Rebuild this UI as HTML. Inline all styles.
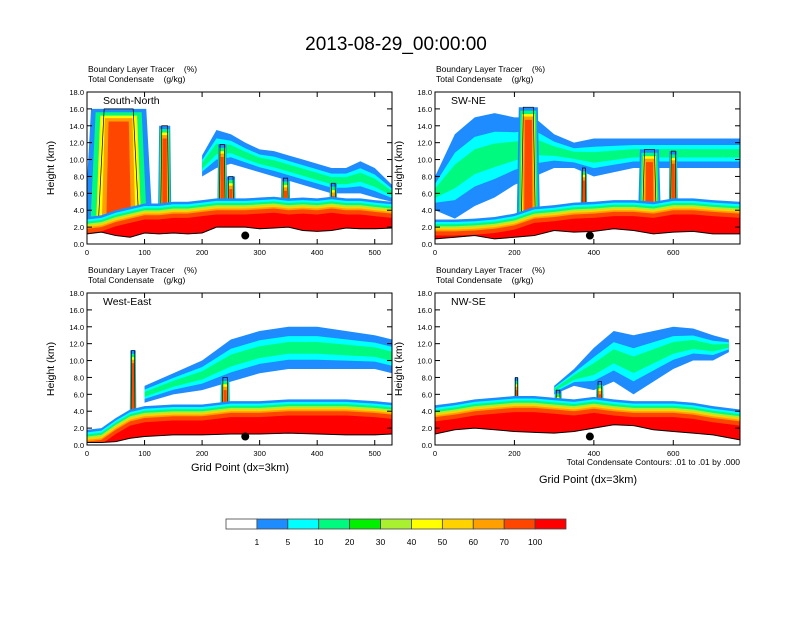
<!DOCTYPE html>
<html><head><meta charset="utf-8">
<style>
body{margin:0;background:#fff;}
svg text{font-family:"Liberation Sans",sans-serif;fill:#000;white-space:pre;}
</style></head>
<body>
<svg id="fig" width="792" height="612" viewBox="0 0 792 612" xmlns="http://www.w3.org/2000/svg">
<text x="396" y="50" font-size="19" text-anchor="middle">2013-08-29_00:00:00</text>
<g id="panels"></g>
<text x="740" y="465" font-size="8.5" text-anchor="end">Total Condensate Contours: .01 to .01 by .000</text>
<text x="240" y="471" font-size="11" text-anchor="middle">Grid Point (dx=3km)</text>
<text x="588" y="483" font-size="11" text-anchor="middle">Grid Point (dx=3km)</text>
<g id="colorbar"></g>
</svg>
<script>
// ---- data ----
const levelLabels = ["1","5","10","20","30","40","50","60","70","100"];
const levelColors = ["#ffffff","#1e8cff","#00ffff","#00fa80","#00f000","#a8f030","#ffff00","#ffd200","#ffa000","#ff4600","#ff0000"];

const p1X = [0,25,50,75,100,125,150,175,200,225,250,275,300,325,350,375,400,425,450,475,500,530];
const p1Ground = [1.2,1.4,1.0,0.8,1.3,1.2,1.3,1.2,1.3,2.0,2.0,2.0,1.8,1.9,2.0,1.6,1.5,1.6,1.9,1.8,1.8,1.9];
const p1Red = [1.8,2.0,2.6,3.0,3.4,3.4,3.6,3.6,3.8,4.0,4.0,4.0,4.1,4.2,4.0,4.1,4.0,4.2,4.0,4.0,3.8,3.6];
const p1AnvX = [200,225,250,275,300,325,350,375,400,425,450,475,500,530];
const p1AnvBot = [8.0,9.0,9.5,9.0,8.5,8.0,7.5,7.0,6.5,6.0,6.0,6.0,5.5,5.0];
const p1AnvTop = [10.5,13.5,13.0,12.0,11.2,11.0,10.5,10.0,9.5,9.0,9.0,9.8,9.0,7.0];
const p1TowX = [55,135,235,250,345,428];
const p1TowW = [80,16,12,12,12,10];
const p1TowTop = [16.0,14.0,11.8,8.0,7.8,7.2];

const p2X = [0,50,100,150,200,250,300,350,400,450,500,550,600,650,700,768];
const p2Ground = [0.6,0.8,1.0,0.6,0.8,1.0,1.6,1.4,1.5,1.8,1.6,1.2,1.4,1.5,1.2,1.2];
const p2Red = [1.5,1.5,1.6,1.8,2.2,3.0,3.2,3.5,3.6,3.8,3.8,3.6,4.0,4.0,3.8,3.6];
const p2AnvX = [0,50,100,150,200,250,300,350,400,450,500,550,600,650,700,768];
const p2AnvBot = [4.0,3.0,4.5,5.5,7.0,8.0,9.0,9.0,8.0,8.5,9.0,9.0,9.0,9.0,9.0,9.0];
const p2AnvTop = [8.0,13.0,15.0,15.5,15.0,15.0,13.0,12.0,12.5,12.5,12.5,12.5,12.5,12.5,12.5,12.5];
const p2TowX = [235,375,540,600];
const p2TowW = [40,12,40,16];
const p2TowTop = [16.2,9.0,11.2,11.0];

const p3X = [0,25,50,75,100,150,200,250,300,350,400,450,500,530];
const p3Ground = [0.3,0.3,0.4,0.8,1.0,1.2,1.2,1.3,1.3,1.4,1.3,1.2,1.2,1.3];
const p3Red = [0.4,0.6,1.8,2.8,3.2,3.4,3.4,3.8,3.8,4.0,4.0,4.0,3.8,3.6];
const p3AnvX = [100,150,200,250,300,350,400,450,500,530];
const p3AnvBot = [5.0,6.0,6.5,7.5,8.5,9.0,9.0,9.0,9.0,8.5];
const p3AnvTop = [7.0,8.5,10.0,12.5,13.5,14.0,14.0,13.5,13.0,12.5];
const p3TowX = [80,240];
const p3TowW = [8,12];
const p3TowTop = [11.2,8.0];

const p4X = [0,50,100,150,200,250,300,350,400,450,500,550,600,650,700,768];
const p4Ground = [1.3,1.8,2.0,1.8,1.6,1.5,1.4,1.6,2.0,2.4,2.3,1.8,1.6,1.4,1.2,0.6];
const p4Red = [3.3,3.6,4.0,4.2,4.4,4.4,4.2,4.0,4.3,4.0,3.8,3.8,3.8,3.6,3.2,2.8];
const p4AnvX = [300,350,400,450,500,550,600,650,700,740];
const p4AnvBot = [6.0,7.0,6.5,7.5,6.0,7.5,9.0,10.0,10.0,11.0];
const p4AnvTop = [7.0,9.0,11.5,13.5,13.0,13.5,14.0,13.8,13.0,12.5];
const p4TowX = [205,310,415];
const p4TowW = [8,14,14];
const p4TowTop = [8.0,6.5,7.5];

const panels = [
 {name:"South-North", x0:87, y0:92, xmax:530, ticks:[0,100,200,300,400,500], dot:275,
  X:p1X,G:p1Ground,R:p1Red,AX:p1AnvX,AB:p1AnvBot,AT:p1AnvTop,TX:p1TowX,TW:p1TowW,TT:p1TowTop},
 {name:"SW-NE", x0:435, y0:92, xmax:768, ticks:[0,200,400,600], dot:390,
  X:p2X,G:p2Ground,R:p2Red,AX:p2AnvX,AB:p2AnvBot,AT:p2AnvTop,TX:p2TowX,TW:p2TowW,TT:p2TowTop},
 {name:"West-East", x0:87, y0:293, xmax:530, ticks:[0,100,200,300,400,500], dot:275,
  X:p3X,G:p3Ground,R:p3Red,AX:p3AnvX,AB:p3AnvBot,AT:p3AnvTop,TX:p3TowX,TW:p3TowW,TT:p3TowTop},
 {name:"NW-SE", x0:435, y0:293, xmax:768, ticks:[0,200,400,600], dot:390,
  X:p4X,G:p4Ground,R:p4Red,AX:p4AnvX,AB:p4AnvBot,AT:p4AnvTop,TX:p4TowX,TW:p4TowW,TT:p4TowTop}
];
const yTicks = [0,2,4,6,8,10,12,14,16,18];

// ---- drawing ----
const NS="http://www.w3.org/2000/svg";
const W=305,H=152;
function mk(tag,attrs,parent){const e=document.createElementNS(NS,tag);for(const k in attrs)e.setAttribute(k,attrs[k]);parent.appendChild(e);return e;}
const root=document.getElementById('panels');

panels.forEach((p,i)=>{
  const sx=v=>p.x0+v/p.xmax*W;
  const sy=v=>p.y0+H-v/18*H;
  const g=mk('g',{},root);
  
  
  const cp=mk('clipPath',{id:'c'+i},g);
  mk('rect',{x:p.x0,y:p.y0,width:W,height:H},cp);
  const pl=mk('g',{'clip-path':'url(#c'+i+')'},g);
  function band(xs,lo,hi,col,name){
    let d='M'+xs.map((x,k)=>sx(x)+','+sy(hi[k])).join('L');
    for(let k=xs.length-1;k>=0;k--)d+='L'+sx(xs[k])+','+sy(lo[k]);
    const e=mk('path',{d:d+'Z',fill:col},pl);
    
    
  }
  // anvil cloud layers
  const AB=p.AB,AT=p.AT;
  const ins=f=>[AB.map((b,k)=>b+(AT[k]-b)*f),AT.map((t,k)=>t-(t-AB[k])*f)];
  band(p.AX,AB,AT,levelColors[1],'anvil-blue');
  let a=ins(0.22);band(p.AX,a[0],a[1],levelColors[2],'anvil-cyan');
  a=ins(0.36);band(p.AX,a[0],a[1],levelColors[3],'anvil-green');
  // towers
  p.TX.forEach((tx,k)=>{
    const w=p.TW[k],top=p.TT[k];
    const layers=[[1.5,0,levelColors[1]],[1.25,0.4,levelColors[3]],[1.0,0.8,levelColors[6]],[0.75,1.1,levelColors[8]],[0.55,1.5,levelColors[9]]];
    layers.forEach(L=>{
      const hw=w*L[0]/2;
      const e=mk('path',{d:'M'+sx(tx-hw)+','+sy(1)+'L'+sx(tx-hw*0.8)+','+sy(top-L[1])+'L'+sx(tx+hw*0.8)+','+sy(top-L[1])+'L'+sx(tx+hw)+','+sy(1)+'Z',fill:L[2]},pl);
      
      
    });
    const hw=w*0.45;
    const o=mk('path',{d:'M'+sx(tx-hw)+','+sy(1.5)+'L'+sx(tx-hw*0.7)+','+sy(top)+'L'+sx(tx+hw*0.7)+','+sy(top)+'L'+sx(tx+hw)+','+sy(1.5),fill:'none',stroke:'#000','stroke-width':0.7},pl);
    
    
  });
  // boundary layer bands
  const off=[[1.4,1],[1.1,2],[0.85,3],[0.6,5],[0.4,7],[0.2,8]];
  off.forEach(o=>band(p.X,p.G,p.R.map(r=>r+o[0]),levelColors[o[1]],'pbl-band'));
  band(p.X,p.G,p.R.map(r=>r+0.0),levelColors[9],'pbl-orange');
  band(p.X,p.G,p.R.map(r=>r-0.5),levelColors[10],'pbl-red');
  // terrain mask
  band(p.X,p.G.map(()=>-1),p.G,'#ffffff','terrain');
  const tl=mk('polyline',{points:p.X.map((x,k)=>sx(x)+','+sy(p.G[k])).join(' '),fill:'none',stroke:'#000','stroke-width':1},pl);
  
  
  // frame
  const fr=mk('rect',{x:p.x0,y:p.y0,width:W,height:H,fill:'none',stroke:'#000','stroke-width':1},g);
  
  
  yTicks.forEach(t=>{
    const y=sy(t);
    mk('line',{x1:p.x0,x2:p.x0+5,y1:y,y2:y,stroke:'#000','stroke-width':1},g);
    mk('line',{x1:p.x0+W,x2:p.x0+W-5,y1:y,y2:y,stroke:'#000','stroke-width':1},g);
    const tx=mk('text',{x:p.x0-3,y:y+3,'font-size':7.5,'text-anchor':'end'},g);
    tx.textContent=t.toFixed(1);
    
    
  });
  p.ticks.forEach(t=>{
    const x=sx(t);
    mk('line',{x1:x,x2:x,y1:p.y0+H,y2:p.y0+H-5,stroke:'#000','stroke-width':1},g);
    mk('line',{x1:x,x2:x,y1:p.y0,y2:p.y0+5,stroke:'#000','stroke-width':1},g);
    const tx=mk('text',{x:x,y:p.y0+H+11,'font-size':7.5,'text-anchor':'middle'},g);
    tx.textContent=t;
    
    
  });
  const dt=mk('circle',{cx:sx(p.dot),cy:sy(1.0),r:4,fill:'#000'},g);
  
  
  const nm=mk('text',{x:p.x0+16,y:p.y0+12,'font-size':10.5},g);nm.textContent=p.name;
  
  
  const l1=mk('text',{x:p.x0+1,y:p.y0-20,'font-size':8.5},g);l1.textContent='Boundary Layer Tracer    (%)';
  
  
  const l2=mk('text',{x:p.x0+1,y:p.y0-10,'font-size':8.5},g);l2.textContent='Total Condensate    (g/kg)';
  
  
  const yl=mk('text',{x:0,y:0,'font-size':10.5,'text-anchor':'middle',transform:'translate('+(p.x0-33)+','+(p.y0+H/2)+') rotate(-90)'},g);
  yl.textContent='Height (km)';
  
  
});

// colorbar
const cb=document.getElementById('colorbar');
const cbx=226,cbw=340/levelColors.length;
levelColors.forEach((c,k)=>{
  const r=mk('rect',{x:cbx+k*cbw,y:519,width:cbw,height:10,fill:c,stroke:'#444','stroke-width':0.8},cb);
  
  
});
levelLabels.forEach((l,k)=>{
  const t=mk('text',{x:cbx+(k+1)*cbw,y:545,'font-size':8.5,'text-anchor':'middle'},cb);
  t.textContent=l;
  
  
});
</script>
</body></html>
